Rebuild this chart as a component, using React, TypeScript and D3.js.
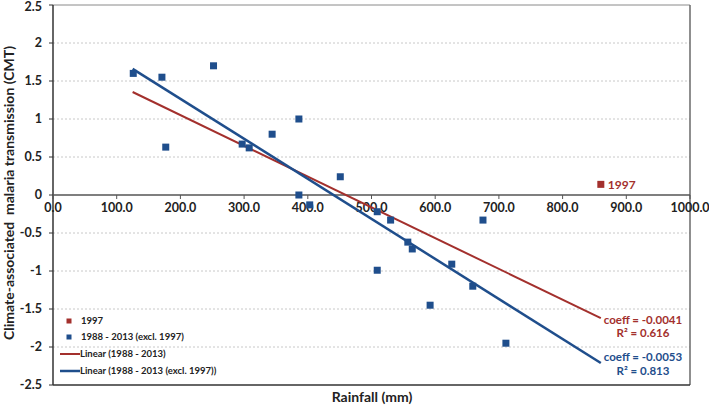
import React from "react";
import * as d3 from "d3";

const blueX = [126, 171, 177, 252, 297, 308, 344, 386, 386, 403, 451, 509, 530, 557, 564, 509, 626, 659, 592, 711, 675];
const blueY = [1.6, 1.55, 0.63, 1.7, 0.67, 0.62, 0.8, 1.0, 0.0, -0.13, 0.24, -0.22, -0.33, -0.62, -0.71, -0.99, -0.91, -1.2, -1.45, -1.95, -0.33];
const redX = [860];
const redY = [0.14];
const redTrend = [[125, 1.355], [860, -1.62]];
const blueTrend = [[125, 1.66], [860, -2.21]];
const xTicks = [0, 100, 200, 300, 400, 500, 600, 700, 800, 900, 1000];
const yTicks = [-2.5, -2, -1.5, -1, -0.5, 0, 0.5, 1, 1.5, 2, 2.5];

const RED = "#a3302d";
const BLUE = "#1f4e8c";
const FONT = "Lato, 'Open Sans', sans-serif";

export default function App() {
  const W = 709, H = 407;
  const L = 53, R = 690, T = 5, B = 385;
  const x = d3.scaleLinear().domain([0, 1000]).range([L, R]);
  const y = d3.scaleLinear().domain([-2.5, 2.5]).range([B, T]);
  const line = d3.line<number[]>().x(d => x(d[0])).y(d => y(d[1]));
  const y0 = y(0);
  const sq = 7;
  return (
    <svg width={W} height={H} style={{ position: "absolute", left: 0, top: 0, fontFamily: FONT }}>
      <rect x={0} y={0} width={W} height={H} fill="#fff" />
      {yTicks.filter(t => t !== 0 && Math.abs(t) !== 2.5).map(t => (
        <line key={"g" + t} x1={L} x2={R} y1={y(t)} y2={y(t)} stroke="#c8c8c8" strokeDasharray="2,2" strokeWidth={1} />
      ))}
      <line x1={L} x2={R} y1={T} y2={T} stroke="#8a8a8a" />
      <line x1={R} x2={R} y1={T} y2={B} stroke="#6a6a6a" strokeWidth={1.5} />
      <line x1={L} x2={R} y1={B} y2={B} stroke="#333" strokeWidth={1.5} />
      <line x1={L} x2={L} y1={T} y2={B} stroke="#333" strokeWidth={1.5} />
      <line x1={L} x2={R} y1={y0} y2={y0} stroke="#555" strokeWidth={1.5} />
      {yTicks.map(t => (
        <g key={"y" + t}>
          <line x1={L - 4} x2={L} y1={y(t)} y2={y(t)} stroke="#333" />
          <text x={42} y={Math.max(y(t), 7)} dy="0.35em" textAnchor="end" fontSize={12.5} fontWeight="bold" fill="#222">{String(t)}</text>
        </g>
      ))}
      {xTicks.map(t => (
        <g key={"x" + t}>
          <line x1={x(t)} x2={x(t)} y1={y0} y2={y0 + 4} stroke="#555" />
          <text x={x(t)} y={y0 + 17} textAnchor="middle" fontSize={12.5} fontWeight="bold" fill="#222">{t.toFixed(1)}</text>
        </g>
      ))}
      <path d={line(redTrend as number[][]) || ""} fill="none" stroke={RED} strokeWidth={2} />
      <path d={line(blueTrend as number[][]) || ""} fill="none" stroke={BLUE} strokeWidth={2.5} />
      {blueX.map((v, i) => (
        <rect key={"b" + i} x={x(v) - sq / 2} y={y(blueY[i]) - sq / 2} width={sq} height={sq} fill={BLUE} />
      ))}
      {redX.map((v, i) => (
        <g key={"r" + i}>
          <rect x={x(v) - sq / 2} y={y(redY[i]) - sq / 2} width={sq} height={sq} fill={RED} />
          <text x={x(v) + 7} y={y(redY[i])} dy="0.35em" fontSize={12} fontWeight="bold" fill={RED}>1997</text>
        </g>
      ))}
      <text x={643} y={324} textAnchor="middle" fontSize={11.5} fontWeight="bold" fill={RED}>coeff = -0.0041</text>
      <text x={643} y={337} textAnchor="middle" fontSize={11.5} fontWeight="bold" fill={RED}>R² = 0.616</text>
      <text x={643} y={361} textAnchor="middle" fontSize={11.5} fontWeight="bold" fill={BLUE}>coeff = -0.0053</text>
      <text x={643} y={375} textAnchor="middle" fontSize={11.5} fontWeight="bold" fill={BLUE}>R² = 0.813</text>
      <g fontSize={9.5} fontWeight="bold" fill="#222">
        <rect x={66.5} y={318.5} width={5} height={5} fill={RED} />
        <text x={81} y={321} dy="0.35em">1997</text>
        <rect x={66.5} y={334.5} width={5} height={5} fill={BLUE} />
        <text x={81} y={337} dy="0.35em">1988 - 2013 (excl. 1997)</text>
        <line x1={60} x2={80} y1={354} y2={354} stroke={RED} strokeWidth={2} />
        <text x={80} y={354} dy="0.35em">Linear (1988 - 2013)</text>
        <line x1={60} x2={80} y1={371} y2={371} stroke={BLUE} strokeWidth={2.5} />
        <text x={80} y={371} dy="0.35em">Linear (1988 - 2013 (excl. 1997))</text>
      </g>
      <text x={372} y={402} textAnchor="middle" fontSize={14} fontWeight="bold" fill="#222">Rainfall (mm)</text>
      <text transform={`translate(14,193) rotate(-90)`} textAnchor="middle" fontSize={14} fontWeight="bold" fill="#222" style={{ whiteSpace: "pre" }}>Climate-associated  malaria transmission (CMT)</text>
    </svg>
  );
}
